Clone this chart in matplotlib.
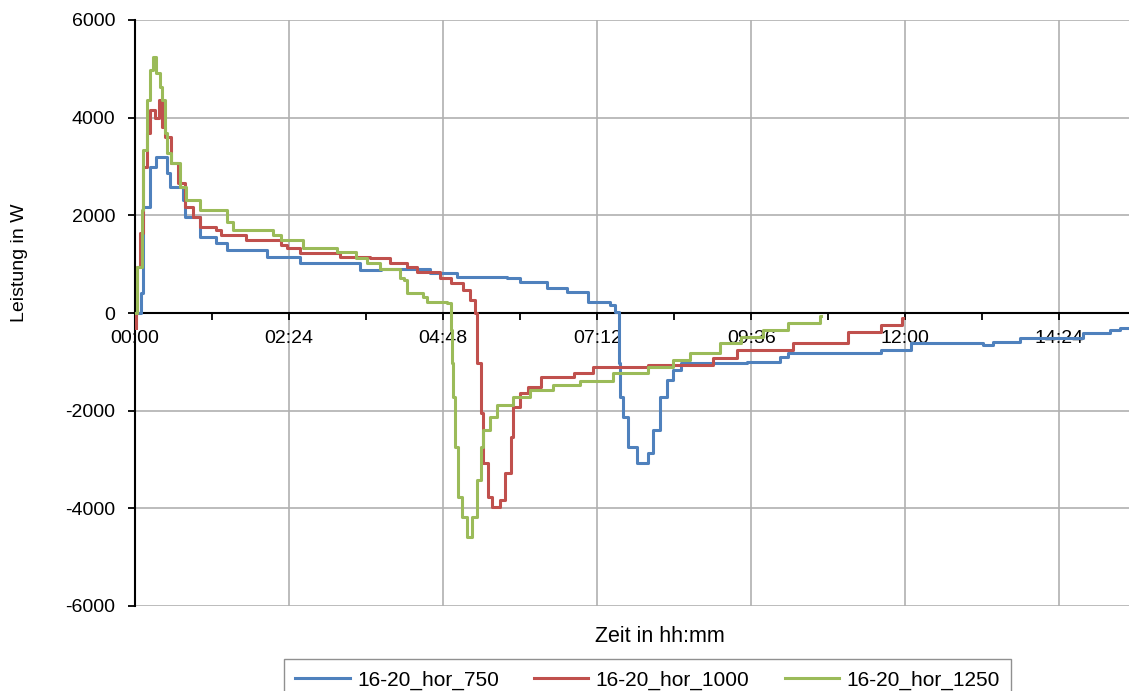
import matplotlib
matplotlib.use("Agg")
import matplotlib.pyplot as plt
from matplotlib.ticker import MultipleLocator, FuncFormatter

plt.rcParams['font.family'] = ['Liberation Sans', 'DejaVu Sans']
plt.rcParams['axes.unicode_minus'] = False

# time in minutes since start, power in W
t_750 = [0, 6, 7.5, 14, 20, 30, 33, 45, 47, 61, 76, 86, 123, 154, 210, 230, 276, 301,
         348, 360, 385, 404, 423, 444, 449, 452, 453, 456, 461, 469, 479, 484, 491, 497,
         503, 510, 572, 603, 610, 666, 697, 722, 725, 793, 802, 827, 886, 911, 921, 930]
p_750 = [0, 400, 2170, 2990, 3200, 2870, 2580, 2310, 1970, 1560, 1430, 1290, 1150, 1020,
         880, 900, 820, 740, 720, 640, 510, 430, 230, 160, 20, -1020, -1720, -2130, -2740,
         -3070, -2870, -2400, -1720, -1370, -1170, -1020, -1000, -900, -820, -820, -760,
         -760, -610, -650, -590, -510, -410, -350, -310, -300]

t_1000 = [0, 0.5, 1, 1.6, 4.7, 7.5, 11, 14, 19, 22, 25, 28, 34, 40, 47, 54, 61, 76, 80,
          104, 136, 142, 154, 192, 220, 238, 254, 264, 285, 295, 307, 313, 318, 320, 323,
          325, 330, 334, 341, 346, 351, 353, 360, 367, 379, 410, 428, 479, 503, 540, 563,
          615, 666, 697, 717, 718]
p_1000 = [0, -300, 0, 940, 1640, 2990, 3690, 4160, 4000, 4360, 3810, 3600, 3070, 2660,
          2170, 1970, 1760, 1700, 1600, 1500, 1390, 1330, 1230, 1150, 1130, 1020, 940, 840,
          720, 610, 470, 270, 0, -1020, -2050, -3070, -3770, -3970, -3830, -3280, -2540,
          -1930, -1640, -1520, -1310, -1230, -1110, -1060, -1060, -920, -760, -610, -380,
          -250, -100, -100]

t_1250 = [0, 1.6, 6.3, 7.5, 11, 14, 17, 20, 23, 25, 28, 30, 34, 42, 48, 61, 86, 92, 129,
          136, 157, 189, 207, 217, 229, 248, 251, 254, 269, 273, 292, 295, 296, 297, 299,
          302, 306, 310, 315, 320, 323, 325, 332, 338, 353, 369, 391, 416, 447, 479, 503,
          519, 547, 566, 587, 610, 640, 641]
p_1250 = [0, 940, 2110, 3340, 4360, 4980, 5240, 4920, 4630, 4360, 3690, 3280, 3070, 2580,
          2310, 2110, 1860, 1700, 1600, 1500, 1330, 1250, 1130, 1020, 900, 720, 680, 410,
          330, 230, 200, -350, -1020, -1720, -2740, -3770, -4180, -4590, -4180, -3420,
          -2740, -2400, -2130, -1880, -1720, -1580, -1470, -1400, -1230, -1110, -960, -820,
          -610, -490, -350, -200, -60, -60]

series = [
    ("16-20_hor_750", t_750, p_750, "#4F81BD"),
    ("16-20_hor_1000", t_1000, p_1000, "#C0504D"),
    ("16-20_hor_1250", t_1250, p_1250, "#9BBB59"),
]

W, H = 1129, 691
fig = plt.figure(figsize=(W / 100, H / 100), dpi=100)
ax = fig.add_axes([135 / W, 1 - 606 / H, (W - 135) / W, (606 - 20) / H])

# logger values change in steps, so draw them as a staircase
for name, t, p, col in series:
    ax.plot(t, p, color=col, lw=2.2, label=name, drawstyle="steps-post")

ax.set_xlim(0, 929)
ax.set_ylim(-6000, 6000)

ax.xaxis.set_major_locator(MultipleLocator(144))
ax.xaxis.set_minor_locator(MultipleLocator(72))
ax.xaxis.set_major_formatter(FuncFormatter(lambda v, pos: "%02d:%02d" % divmod(int(round(v)), 60)))
ax.yaxis.set_major_locator(MultipleLocator(2000))

ax.grid(True, which="major", color="#b0b0b0", lw=1.2)
ax.set_axisbelow(True)

ax.spines["bottom"].set_position(("data", 0))
ax.spines["top"].set_visible(False)
ax.spines["right"].set_visible(False)
for s in ("bottom", "left"):
    ax.spines[s].set_color("black")
    ax.spines[s].set_linewidth(1.5)
    ax.spines[s].set_zorder(1.5)

ax.tick_params(axis="both", which="both", direction="out", length=5, width=1.3,
               labelsize=14, color="black")
ax.tick_params(axis="x", pad=7)
ax.tick_params(axis="y", pad=9)

fig.text(20 / W, 1 - 263 / H, "Leistung in W", rotation=90, ha="center", va="center", fontsize=14)
fig.text(660 / W, 1 - 636 / H, "Zeit in hh:mm", ha="center", va="center", fontsize=15.5)

fig.legend(loc="upper left", bbox_to_anchor=(284 / W, 1 - 659 / H), borderaxespad=0,
           ncol=3, fontsize=15, frameon=True, fancybox=False, edgecolor="#909090",
           handlelength=2.6, handletextpad=0.35, columnspacing=1.7, borderpad=0.55,
           framealpha=1)

fig.savefig("out.png", dpi=100)
